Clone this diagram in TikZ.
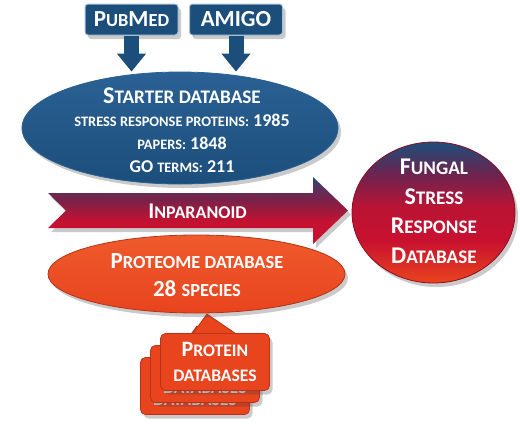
\documentclass[tikz,border=0pt]{standalone}
\usepackage{graphicx}
\usepackage{fontspec}
\setmainfont{Carlito}
\usetikzlibrary{arrows.meta,positioning,shapes.geometric,shadows}
\definecolor{navy}{HTML}{1C4E7B}
\definecolor{navylight}{HTML}{2A6194}
\definecolor{navyedge}{HTML}{A9C1D6}
\definecolor{flame}{HTML}{E8441E}
\definecolor{flamelight}{HTML}{EF5A2C}
\definecolor{flamedark}{HTML}{B5331A}
\definecolor{crimson}{HTML}{C8112F}
\definecolor{wine}{HTML}{7A2149}
\definecolor{plum}{HTML}{6A2450}
\pgfdeclareverticalshading{fsrshade}{100bp}{color(0bp)=(flame); color(25bp)=(flame);
  color(40bp)=(crimson); color(52bp)=(crimson!85!plum); color(64bp)=(plum);
  color(75bp)=(navy); color(100bp)=(navy)}
\pgfdeclareverticalshading{arrowshade}{100bp}{color(0bp)=(crimson); color(25bp)=(crimson);
  color(42bp)=(crimson!95!wine); color(58bp)=(wine); color(68bp)=(wine!60!navy);
  color(75bp)=(navy); color(100bp)=(navy)}
\newcommand{\lc}[1]{\scalebox{0.8}{#1}}
\tikzset{
  softshadow/.style={drop shadow={shadow xshift=3pt,shadow yshift=-4pt,opacity=0.28,fill=black!75}},
  srcbox/.style={draw=navyedge,line width=1pt,fill=navy,rounded corners=3pt,text=white,
                 font=\bfseries\fontsize{23}{24}\selectfont,minimum width=93pt,
                 minimum height=31pt,inner sep=0pt,softshadow},
  feed/.style={draw=navy,line width=15pt,-{Triangle[width=28pt,length=18pt]}},
  bluedisc/.style={ellipse,draw=navylight,line width=0.8pt,top color=navylight,
                   bottom color=navy,inner sep=0pt,softshadow},
  flamedisc/.style={ellipse,draw=flamedark,line width=0.8pt,top color=flamelight,
                    bottom color=flame,inner sep=0pt,softshadow},
  dbcard/.style={draw=flamedark,line width=0.8pt,fill=flame,rounded corners=5pt,
                 minimum width=109pt,minimum height=57pt,inner sep=0pt,align=center,
                 font=\bfseries\fontsize{22}{25}\selectfont,softshadow},
  whitetext/.style={text=white,align=center,inner sep=0pt}
}

\begin{document}
\begin{tikzpicture}[x=1pt,y=-1pt]
\useasboundingbox (0,0) rectangle (520,437);
% protein databases, stacked
\foreach \k/\ink in {2/white!75!gray,1/white!75!gray,0/white}{
  \node[dbcard,text=\ink] (card\k) at (215-10*\k,362+12*\k) {P\lc{ROTEIN}\\\lc{DATABASES}};
  \filldraw[fill=flame,draw=flamedark,line width=0.8pt]
    ([xshift=-22pt]card\k.north) -- ([xshift=-8pt,yshift=19pt]card\k.north) -- ([xshift=20pt]card\k.north);
}
% sources
\node[srcbox] (pubmed) at (131.5,19.5) {P\lc{UB}M\lc{ED}};
\node[srcbox] (amigo) at (236,19.5) {AMIGO};
% starter database
\node[bluedisc,minimum width=316pt,minimum height=112pt] (starter) at (180,128) {};
\node[whitetext,font=\bfseries\fontsize{18}{23}\selectfont] (startertext) at (182,130)
  {{\fontsize{24}{24}\selectfont S\lc{TARTER DATABASE}}\\
   \lc{STRESS RESPONSE PROTEINS:} 1985\\
   \lc{PAPERS:} 1848\\
   GO \lc{TERMS:} 211};
\draw[feed] (pubmed.south) -- (pubmed.south |- starter.north);
\draw[feed] (amigo.south) -- (amigo.south |- starter.north);
% inparanoid arrow
\shade[shading=arrowshade,softshadow]
  (48,193) -- (313,193) -- (313,177) -- (348,210.5) -- (313,244) -- (313,228)
  -- (48,228) -- (66,210.5) -- cycle;
\node[whitetext,font=\bfseries\fontsize{22.5}{23}\selectfont] (inparanoid) at (197.5,211.5) {I\lc{NPARANOID}};
% proteome database
\node[flamedisc,minimum width=297pt,minimum height=78pt] (proteome) at (196.5,274) {};
\node[whitetext,font=\bfseries\fontsize{23}{28}\selectfont] (proteometext) at (197,275)
  {P\lc{ROTEOME DATABASE}\\28 \lc{SPECIES}};
% fungal stress response database
\node[ellipse,shading=fsrshade,draw=crimson!70!black,line width=0.8pt,softshadow,
      minimum width=163pt,minimum height=141pt] (fsrdb) at (433.5,212.5) {};
\node[whitetext,font=\bfseries\fontsize{24}{29.5}\selectfont] (fsrdbtext) at (434,211.5)
  {F\lc{UNGAL}\\S\lc{TRESS}\\R\lc{ESPONSE}\\D\lc{ATABASE}};
\end{tikzpicture}
\end{document}
